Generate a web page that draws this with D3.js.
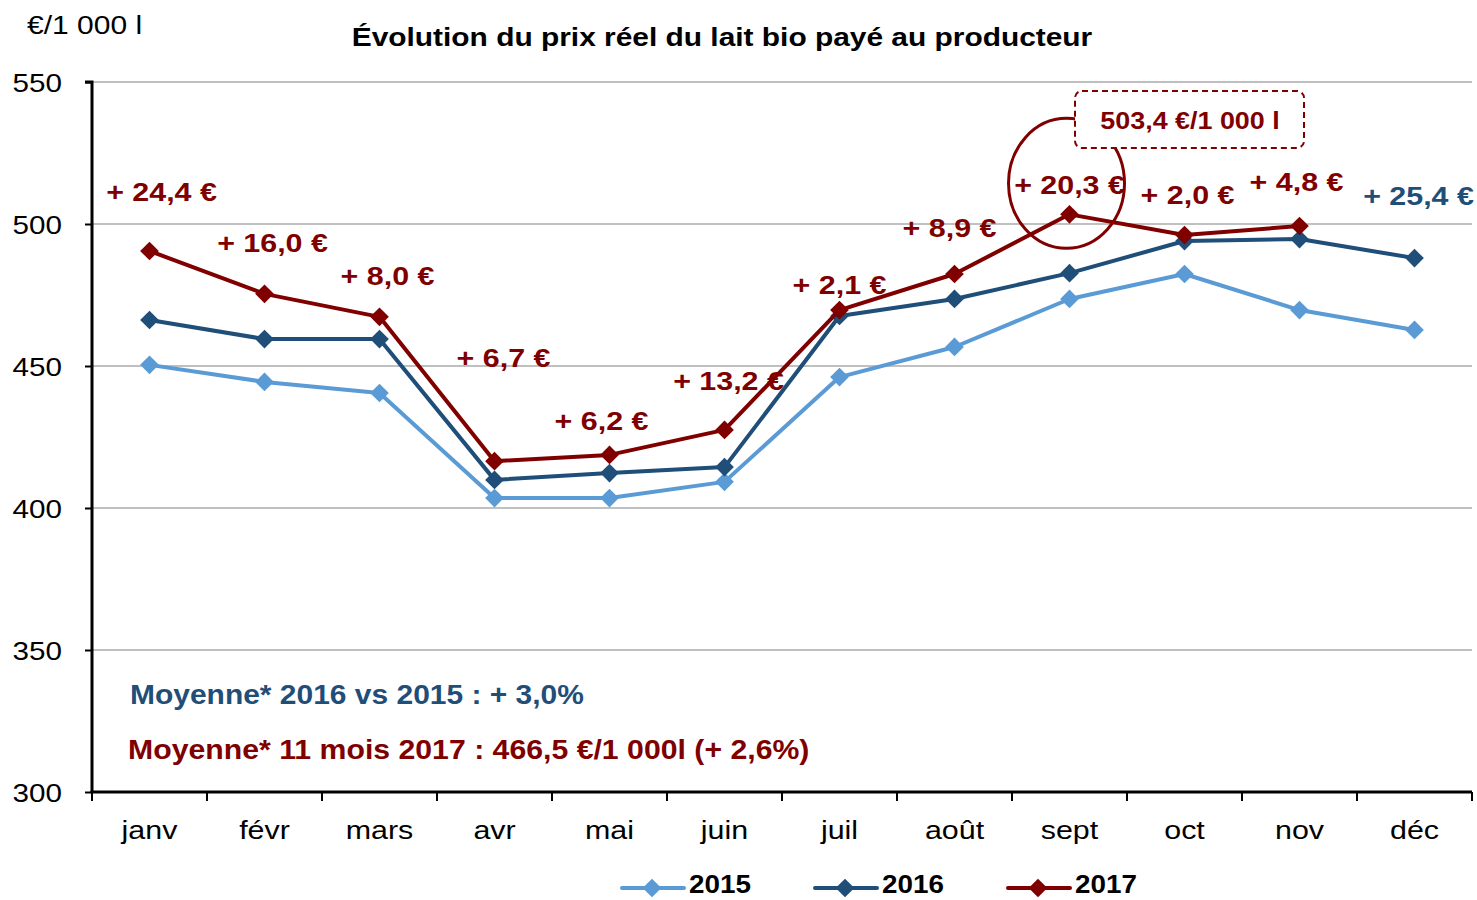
<!DOCTYPE html>
<html>
<head>
<meta charset="utf-8">
<script src="https://cdn.jsdelivr.net/npm/d3@7"></script>
<style>
  body { margin: 0; background: #fff; }
  svg { font-family: "Liberation Sans", Arial, sans-serif; }
</style>
</head>
<body>
<svg width="1477" height="900"></svg>
<script>
'use strict';

// Data
var months = ['janv', 'févr', 'mars', 'avr', 'mai', 'juin', 'juil', 'août', 'sept', 'oct', 'nov', 'déc'];
var years = ['2015', '2016', '2017'];
var values2015 = [450.4, 444.4, 440.5, 403.5, 403.5, 409.2, 446.1, 456.7, 473.6, 482.4, 469.7, 462.7];
var values2016 = [466.2, 459.5, 459.5, 409.9, 412.3, 414.4, 467.6, 473.6, 482.7, 494.0, 494.7, 488.0];
var values2017 = [490.5, 475.4, 467.3, 416.5, 418.7, 427.5, 469.7, 482.4, 503.4, 496.1, 499.3];
var yTicks = [300, 350, 400, 450, 500, 550];
var diffLabels = ['+ 24,4 €', '+ 16,0 €', '+ 8,0 €', '+ 6,7 €', '+ 6,2 €', '+ 13,2 €',
                  '+ 2,1 €', '+ 8,9 €', '+ 20,3 €', '+ 2,0 €', '+ 4,8 €', '+ 25,4 €'];

var colors = { '2015': '#5b9bd5', '2016': '#1f4e79', '2017': '#800000' };
var series = [
  { year: '2015', values: values2015 },
  { year: '2016', values: values2016 },
  { year: '2017', values: values2017 }
];

// Layout
var margin = { top: 82, right: 5, bottom: 108, left: 92 };
var canvasWidth = 1477;
var canvasHeight = 900;
var svg = d3.select('svg');

var xScale = d3.scaleBand().domain(months).range([margin.left, canvasWidth - margin.right]);
var yScale = d3.scaleLinear().domain([300, 550]).range([canvasHeight - margin.bottom, margin.top]);
var xMid = function(m) { return xScale(m) + xScale.bandwidth() / 2; };

// the source font is a bit wider than Liberation Sans, so stretch text horizontally
function addText(parent, x, y, str, size, stretch, anchor, bold, fill) {
  return parent.append('text')
    .attr('transform', 'translate(' + x + ',' + y + ') scale(' + stretch + ',1)')
    .attr('text-anchor', anchor || 'start')
    .style('font-size', size + 'px')
    .style('font-weight', bold ? 'bold' : 'normal')
    .attr('fill', fill || '#000')
    .text(str);
}

// Gridlines
svg.append('g')
  .selectAll('line')
  .data(yTicks.filter(function(d) { return d > 300; }))
  .enter().append('line')
  .attr('x1', margin.left)
  .attr('x2', canvasWidth - margin.right)
  .attr('y1', function(d) { return yScale(d); })
  .attr('y2', function(d) { return yScale(d); })
  .attr('stroke', '#c0c0c0')
  .attr('stroke-width', 2);

// Y axis
var yAxis = svg.append('g')
  .attr('transform', 'translate(' + margin.left + ',0)')
  .call(d3.axisLeft(yScale).tickValues(yTicks).tickSize(7).tickFormat(''));
yAxis.select('.domain').attr('stroke', '#000').attr('stroke-width', 3).attr('d',
  'M-7,' + yScale(550) + 'H0V' + yScale(300));
yAxis.selectAll('.tick line').attr('stroke-width', 2);
yTicks.forEach(function(t) {
  addText(svg, 62, yScale(t) + 9.5, String(t), 26, 1.14, 'end');
});

// X axis (ticks at band boundaries)
var xAxisG = svg.append('g');
xAxisG.append('line')
  .attr('x1', margin.left - 1.5)
  .attr('x2', canvasWidth - margin.right)
  .attr('y1', yScale(300))
  .attr('y2', yScale(300))
  .attr('stroke', '#000')
  .attr('stroke-width', 3);
xAxisG.selectAll('.xtick')
  .data(months.concat(['end']))
  .enter().append('line')
  .attr('class', 'xtick')
  .attr('x1', function(d, i) { return margin.left + i * xScale.bandwidth(); })
  .attr('x2', function(d, i) { return margin.left + i * xScale.bandwidth(); })
  .attr('y1', yScale(300))
  .attr('y2', yScale(300) + 9)
  .attr('stroke', '#000')
  .attr('stroke-width', 2);
months.forEach(function(m) {
  addText(xAxisG, xMid(m), yScale(300) + 47, m, 26, 1.17, 'middle');
});

// Titles
addText(svg, 27, 34, '€/1 000 l', 25, 1.2);
addText(svg, 722, 46, 'Évolution du prix réel du lait bio payé au producteur', 26, 1.15, 'middle', true);

// Lines and markers
var marker = d3.symbol().type(d3.symbolSquare).size(175);
var line = d3.line()
  .x(function(d, i) { return xMid(months[i]); })
  .y(function(d) { return yScale(d); });

series.forEach(function(s) {
  svg.append('path')
    .datum(s.values)
    .attr('fill', 'none')
    .attr('stroke', colors[s.year])
    .attr('stroke-width', 4)
    .attr('stroke-linejoin', 'round')
    .attr('d', line);
  svg.selectAll('.dot' + s.year)
    .data(s.values)
    .enter().append('path')
    .attr('class', 'dot' + s.year)
    .attr('d', marker)
    .attr('transform', function(d, i) {
      return 'translate(' + xMid(months[i]) + ',' + yScale(d) + ') rotate(45)';
    })
    .attr('fill', colors[s.year]);
});

// Difference labels (offset in pixels from the upper point of each month)
var labelOffsets = [[12, -52], [8, -44], [8, -34], [9, -96], [-8, -27], [4, -42],
                    [0, -18], [-5, -39], [0, -22], [3, -33], [-3, -37], [4, -55]];
diffLabels.forEach(function(lbl, i) {
  var in2017 = i < values2017.length;
  var v = in2017 ? values2017[i] : values2016[i];
  addText(svg, xMid(months[i]) + labelOffsets[i][0], yScale(v) + labelOffsets[i][1] + 2,
    lbl, 26, 1.17, 'middle', true, in2017 ? colors['2017'] : colors['2016']);
});

// Highlight of the September peak
var peakX = xMid('sept');
var peakY = yScale(values2017[8]);
svg.append('ellipse')
  .attr('cx', peakX - 3)
  .attr('cy', peakY - 31)
  .attr('rx', 58)
  .attr('ry', 65)
  .attr('fill', 'none')
  .attr('stroke', colors['2017'])
  .attr('stroke-width', 3);
svg.append('rect')
  .attr('x', 1075)
  .attr('y', 91)
  .attr('width', 229)
  .attr('height', 57)
  .attr('rx', 7)
  .attr('fill', '#fff')
  .attr('stroke', colors['2017'])
  .attr('stroke-width', 2)
  .attr('stroke-dasharray', '6,4');
addText(svg, 1190, 129, '503,4 €/1 000 l', 24, 1.12, 'middle', true, colors['2017']);

// Averages
addText(svg, 130, 704, 'Moyenne* 2016 vs 2015 : + 3,0%', 27, 1.11, 'start', true, colors['2016']);
addText(svg, 128, 759, 'Moyenne* 11 mois 2017 : 466,5 €/1 000l (+ 2,6%)', 27, 1.12, 'start', true, colors['2017']);

// Legend
var legend = svg.selectAll('.legend')
  .data(years)
  .enter().append('g')
  .attr('class', 'legend')
  .attr('transform', function(d, i) { return 'translate(' + (622 + i * 193) + ',888)'; });
legend.append('line')
  .attr('x1', 0)
  .attr('x2', 62)
  .attr('stroke', function(d) { return colors[d]; })
  .attr('stroke-width', 4)
  .attr('stroke-linecap', 'round');
legend.append('path')
  .attr('d', marker)
  .attr('transform', 'translate(30,0) rotate(45)')
  .attr('fill', function(d) { return colors[d]; });
legend.each(function(d) {
  addText(d3.select(this), 67, 5, d, 26, 1.07, 'start', true);
});
</script>
</body>
</html>
